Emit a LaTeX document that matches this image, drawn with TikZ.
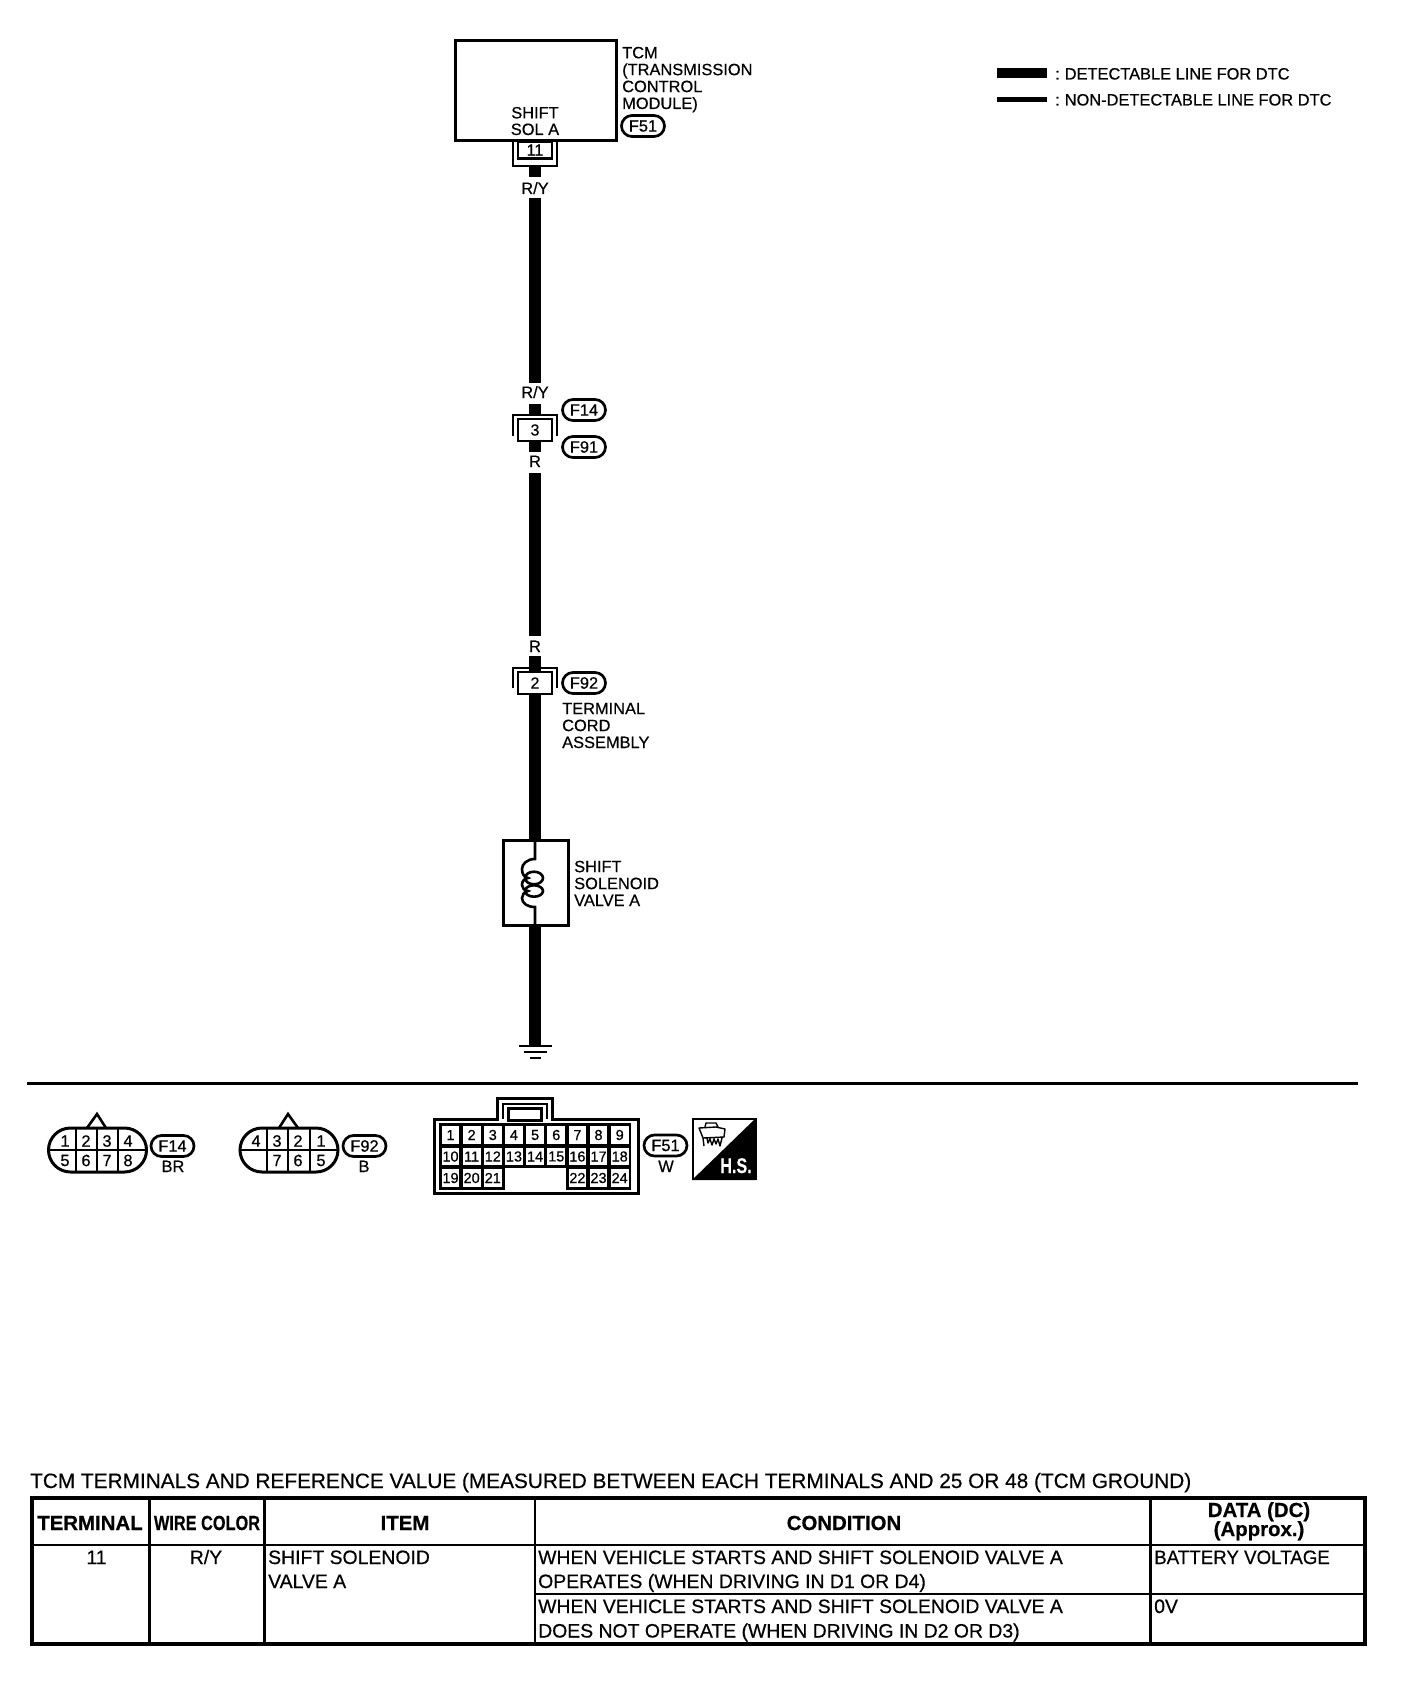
\documentclass[tikz,border=0pt]{standalone}
\usepackage{fontspec}
\setmainfont{Liberation Sans}[RawFeature={embolden=0.45}]
\usetikzlibrary{shapes.misc}
\tikzset{
  lab/.style={inner sep=0pt,font=\fontsize{16.4}{16.9}\selectfont,align=left},
  labc/.style={inner sep=0pt,font=\fontsize{16.4}{16.6}\selectfont,align=center},
  pill/.style={draw,line width=2.7pt,rounded rectangle,inner sep=0pt,minimum width=43pt,minimum height=21pt,font=\fontsize{16.4}{16}\selectfont},
  wire/.style={line width=11.5pt,line cap=butt},
  termbox/.style={draw,line width=2.7pt,fill=white,inner sep=0pt,minimum width=34pt,font=\fontsize{16}{15}\selectfont},
  brk/.style={line width=2.8pt,line join=miter},
  conn/.style={draw,line width=3pt,rounded rectangle,inner sep=0pt,minimum width=98pt,minimum height=44pt},
  num/.style={inner sep=0pt,font=\fontsize{16.4}{16}\selectfont},
  cell/.style={draw,line width=2.8pt,fill=white,inner sep=0pt,minimum width=20.6pt,minimum height=20.4pt,font=\fontsize{14.5}{14.5}\selectfont},
  tb/.style={line width=3.6pt,line cap=rect},
  tl/.style={line width=2.6pt},
  tt/.style={inner sep=0pt,font=\fontsize{19.4}{19.2}\selectfont},
  th/.style={inner sep=0pt,font=\fontsize{20.4}{19}\bfseries\selectfont,align=center},
}
\begin{document}
\begin{tikzpicture}[x=1pt,y=-1pt]
\useasboundingbox (0,0) rectangle (1408,1696);
% TCM
\node[draw,line width=3pt,minimum width=161pt,minimum height=100pt,inner sep=0pt] (tcm) at (535.5,91) {};
\node[labc,anchor=base] (sol) at (535,135) {SHIFT\\SOL A};
\node[lab,anchor=base west] (tcmt) at (622,109) {TCM\\(TRANSMISSION\\CONTROL\\MODULE)};
\node[pill] (f51a) at (643,126) {F51};
% terminal 11
\node[termbox,minimum height=17pt] (t11) at (535,150) {11};
\draw[brk] (513,141) -- (513,166) -- (557,166) -- (557,141);
\coordinate (w1a) at (535,167);
\coordinate (w1b) at (535,177);
\draw[wire] (w1a) -- (w1b);
\node[labc,anchor=base] (ry1) at (535,194) {R/Y};
\coordinate (w2a) at (535,198);
\coordinate (w2b) at (535,383);
\draw[wire] (w2a) -- (w2b);
\node[labc,anchor=base] (ry2) at (535,398) {R/Y};
\coordinate (w3a) at (535,404);
\coordinate (w3b) at (535,414);
\draw[wire] (w3a) -- (w3b);
% terminal 3
\coordinate (w4a) at (535,441);
\coordinate (w4b) at (535,452);
\draw[wire] (w4a) -- (w4b);
\draw[brk] (513,436) -- (513,415) -- (557,415) -- (557,436);
\node[termbox,minimum height=22pt] (t3) at (535,430) {3};
\node[pill] (f14a) at (584,410) {F14};
\node[pill] (f91) at (584,447) {F91};
\node[labc,anchor=base] (r1) at (535,467) {R};
\coordinate (w5a) at (535,473);
\coordinate (w5b) at (535,636);
\draw[wire] (w5a) -- (w5b);
\node[labc,anchor=base] (r2) at (535,652) {R};
% terminal 2
\coordinate (w6a) at (535,656);
\coordinate (w6b) at (535,841);
\draw[wire] (w6a) -- (w6b);
\draw[brk] (513,688) -- (513,668) -- (557,668) -- (557,688);
\node[termbox,minimum height=22pt] (t2) at (535,683) {2};
\node[pill] (f92a) at (584,683) {F92};
\node[lab,anchor=base west] (cord) at (562,748) {TERMINAL\\CORD\\ASSEMBLY};
% solenoid
\node[draw,line width=3pt,fill=white,minimum width=65pt,minimum height=85pt,inner sep=0pt] (solv) at (536,883) {};
\node[lab,anchor=base west] (solt) at (574,906) {SHIFT\\SOLENOID\\VALVE A};
\draw[line width=2.6pt] (535,841) -- (535,859) .. controls (527,859) and (522,864) .. (522,869)
  .. controls (522,874) and (524,877) .. (528,878)
  .. controls (524,879) and (522,881) .. (522,885)
  .. controls (522,888) and (524,890) .. (528,891)
  .. controls (524,892) and (522,895) .. (522,898)
  .. controls (522,903) and (527,907) .. (535,907) -- (535,925);
\draw[line width=2.6pt] (534,878) ellipse [x radius=9pt,y radius=6.3pt];
\draw[line width=2.6pt] (534,891) ellipse [x radius=9pt,y radius=5.7pt];
% ground
\coordinate (w7a) at (535,925);
\coordinate (w7b) at (535,1045);
\draw[wire] (w7a) -- (w7b);
\coordinate (g1a) at (519,1046); \coordinate (g1b) at (552,1046);
\coordinate (g2a) at (524,1052); \coordinate (g2b) at (547,1052);
\coordinate (g3a) at (530,1058); \coordinate (g3b) at (541,1058);
\draw[line width=2.8pt] (g1a) -- (g1b) (g2a) -- (g2b) (g3a) -- (g3b);
% separator
\coordinate (s1) at (27,1083.5); \coordinate (s2) at (1358,1083.5);
\draw[line width=3pt] (s1) -- (s2);
% legend
\coordinate (l1a) at (997,73.5); \coordinate (l1b) at (1047,73.5);
\coordinate (l2a) at (997,99.5); \coordinate (l2b) at (1047,99.5);
\draw[line width=10pt] (l1a) -- (l1b);
\draw[line width=5pt] (l2a) -- (l2b);
\node[lab,anchor=base west] (l1) at (1055,79.5) {:\kern5pt DETECTABLE LINE FOR DTC};
\node[lab,anchor=base west] (l2) at (1055,105.5) {:\kern5pt NON-DETECTABLE LINE FOR DTC};
% F14 connector
\draw[line width=2.6pt,line join=miter] (87,1128) -- (97,1114) -- (106,1128);
\node[conn] (c14) at (97.5,1150) {};
\draw[line width=2.8pt] (49,1150) -- (146,1150);
\draw[line width=2.8pt] (76,1128) -- (76,1172) (97,1128) -- (97,1172) (118,1128) -- (118,1172);
\foreach \n/\xx/\yy in {1/65/1141,2/86/1141,3/107/1141,4/128/1141,5/65/1160.5,6/86/1160.5,7/107/1160.5,8/128/1160.5}
  \node[num] (a\n) at (\xx,\yy) {\n};
\node[pill] (f14b) at (172.5,1146) {F14};
\node[labc,anchor=base] (br) at (173,1172) {BR};
% F92 connector
\draw[line width=2.6pt,line join=miter] (279,1128) -- (288,1114) -- (298,1128);
\node[conn] (c92) at (289,1150) {};
\draw[line width=2.8pt] (241,1150) -- (337,1150);
\draw[line width=2.8pt] (267,1128) -- (267,1172) (288,1128) -- (288,1172) (310,1128) -- (310,1172);
\foreach \n/\xx/\yy in {4/256/1141,3/277/1141,2/298/1141,1/321/1141,7/277/1160.5,6/298/1160.5,5/321/1160.5}
  \node[num] (b\n) at (\xx,\yy) {\n};
\node[pill] (f92b) at (364.5,1146) {F92};
\node[labc,anchor=base] (bb) at (364,1172) {B};
% F51 connector
\draw[line width=3pt,line join=miter] (434,1119) -- (497,1119) -- (497,1098) -- (552,1098) -- (552,1119) -- (638,1119) -- (638,1193) -- (434,1193) -- cycle;
\draw[line width=2.6pt] (503,1119) -- (503,1104) -- (547,1104) -- (547,1119);
\node[draw,line width=2.8pt,minimum width=33pt,minimum height=12pt,inner sep=0pt] (tab) at (525,1114.5) {};
\foreach \n [count=\i from 0] in {1,...,9}{
  \pgfmathsetmacro{\xc}{450.5+21.15*\i}
  \node[cell] (p\n) at (\xc,1135) {\n};
}
\foreach \n [count=\i from 0] in {10,...,18}{
  \pgfmathsetmacro{\xc}{450.5+21.15*\i}
  \node[cell] (p\n) at (\xc,1156.5) {\n};
}
\foreach \n/\i in {19/0,20/1,21/2,22/6,23/7,24/8}{
  \pgfmathsetmacro{\xc}{450.5+21.15*\i}
  \node[cell] (p\n) at (\xc,1178) {\n};
}
\node[pill] (f51b) at (665.5,1145.5) {F51};
\node[labc,anchor=base] (ww) at (666,1172) {W};
% H.S. icon
\draw[line width=2pt,fill=white] (693,1119) rectangle (756,1179);
\fill (756,1118) -- (756,1180) -- (692,1180) -- cycle;
\node[inner sep=0pt,text=white,font=\fontsize{17}{17}\bfseries\selectfont,anchor=base] (hs) at (736,1173) {\scalebox{.95}[1.25]{H.S.}};
\draw[line width=1.4pt,line join=round] (705,1127) -- (706,1123) -- (716,1123) -- (718,1127)
  (699,1128) -- (716,1127) -- (725,1129) -- (724,1137) -- (703,1138) -- (699,1128) -- cycle
  (703,1138) -- (704,1146) (707,1138) -- (708,1143) -- (710,1139) -- (712,1145) -- (714,1139) -- (716,1144) -- (718,1139) -- (720,1146) -- (722,1138);
% table
\node[inner sep=0pt,anchor=base west,font=\fontsize{20.8}{20}\selectfont] (ttl) at (30,1488) {TCM TERMINALS AND REFERENCE VALUE (MEASURED BETWEEN EACH TERMINALS AND 25 OR 48 (TCM GROUND)};
\draw[tb] (32,1498) rectangle (1365,1644);
\draw[tl] (32,1545) -- (1365,1545)
  (149.5,1498) -- (149.5,1644) (264.5,1498) -- (264.5,1644) (535,1498) -- (535,1644) (1150.5,1498) -- (1150.5,1644)
  (535,1594) -- (1365,1594);
\node[th,anchor=base] (h1) at (90,1530) {TERMINAL};
\node[th,anchor=base] (h2) at (207,1530) {\scalebox{.8}[1]{WIRE COLOR}};
\node[th,anchor=base] (h3) at (405,1530) {ITEM};
\node[th,anchor=base] (h4) at (844,1530) {CONDITION};
\node[th,anchor=base] (h5) at (1259,1517) {DATA (DC)};
\node[th,anchor=base] (h6) at (1259,1536) {(Approx.)};
\node[tt,anchor=base] (d1) at (96.5,1564) {11};
\node[tt,anchor=base] (d2) at (206,1564) {R/Y};
\node[tt,anchor=base west] (d3) at (268,1564) {SHIFT SOLENOID};
\node[tt,anchor=base west] (d4) at (268,1588) {VALVE A};
\node[tt,anchor=base west] (d5) at (538,1564) {WHEN VEHICLE STARTS AND SHIFT SOLENOID VALVE A};
\node[tt,anchor=base west] (d6) at (538,1588) {OPERATES (WHEN DRIVING IN D1 OR D4)};
\node[tt,anchor=base west] (d7) at (538,1613) {WHEN VEHICLE STARTS AND SHIFT SOLENOID VALVE A};
\node[tt,anchor=base west] (d8) at (538,1637.5) {DOES NOT OPERATE (WHEN DRIVING IN D2 OR D3)};
\node[tt,anchor=base west] (d9) at (1154,1564) {\scalebox{.966}[1]{BATTERY VOLTAGE}};
\node[tt,anchor=base west] (d10) at (1154,1613) {0V};
\end{tikzpicture}
\end{document}
